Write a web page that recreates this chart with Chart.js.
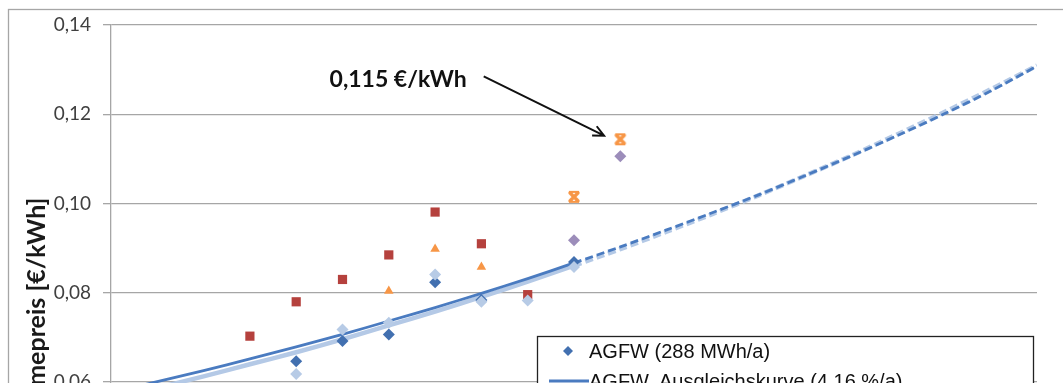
<!DOCTYPE html>
<html>
<head>
<meta charset="utf-8">
<script src="https://cdn.jsdelivr.net/npm/chart.js@4.4.1/dist/chart.umd.min.js"></script>
<style>
  html, body { margin: 0; padding: 0; background: #fff; overflow: hidden; }
  #clip { width: 1063px; height: 383px; overflow: hidden; position: relative; }
  #chart-container { width: 1063px; height: 710px; position: relative; }
</style>
</head>
<body>
<div id="clip">
  <div id="chart-container"><canvas id="price-chart"></canvas></div>
</div>
<script>
// values
const curveYears = [2000, 2001, 2002, 2003, 2004, 2005, 2006, 2007, 2008, 2009, 2010,
                    2011, 2012, 2013, 2014, 2015, 2016, 2017, 2018, 2019, 2020];
const agfwCurve = [0.0577, 0.0601, 0.0626, 0.0652, 0.0679, 0.0707, 0.0737, 0.0767, 0.0799, 0.0832, 0.0867,
                   0.0903, 0.0941, 0.0980, 0.1020, 0.1063, 0.1107, 0.1153, 0.1201, 0.1252, 0.1308];
const lightCurve = [0.0562, 0.0587, 0.0613, 0.0640, 0.0667, 0.0696, 0.0727, 0.0758, 0.0791, 0.0825, 0.0861,
                    0.0898, 0.0937, 0.0977, 0.1019, 0.1063, 0.1108, 0.1156, 0.1205, 0.1256, 0.1309];

const agfwYears = [2004, 2005, 2006, 2007, 2008, 2010];
const agfwPrices = [0.0647, 0.0692, 0.0707, 0.0824, 0.0784, 0.0869];

const lightYears = [2004, 2005, 2006, 2007, 2008, 2009, 2010];
const lightPrices = [0.0618, 0.0718, 0.0733, 0.0841, 0.0780, 0.0783, 0.0858];

const redYears = [2003, 2004, 2005, 2006, 2007, 2008, 2009];
const redPrices = [0.0703, 0.0780, 0.0830, 0.0885, 0.0981, 0.0910, 0.0796];

const triYears = [2006, 2007, 2008];
const triPrices = [0.0804, 0.0898, 0.0858];

const purpleYears = [2010, 2011];
const purplePrices = [0.0918, 0.1106];

const starYears = [2010, 2011];
const starPrices = [0.1015, 0.1144];

const yTicks = [0, 0.02, 0.04, 0.06, 0.08, 0.10, 0.12, 0.14];
const forecastFrom = 2010;

const legendLabels = ["AGFW (288 MWh/a)", "AGFW, Ausgleichskurve (4,16 %/a)"];
const annotationText = "0,115 €/kWh";
const annotationAt = { x: 2004.72, y: 0.1277 };
const arrowFrom = { x: 2008.05, y: 0.1285 };
const arrowTo = { x: 2010.65, y: 0.1152 };

const pts = (xs, ys) => xs.map((x, i) => ({ x: x, y: ys[i] }));

// excel like "star" marker
const starMarker = document.createElement('canvas');
starMarker.width = 14; starMarker.height = 14;
(() => {
    const c = starMarker.getContext('2d');
    c.strokeStyle = '#f79646';
    c.lineCap = 'round';
    c.lineWidth = 3.4;
    c.beginPath();
    c.moveTo(3, 3); c.lineTo(11, 11);
    c.moveTo(11, 3); c.lineTo(3, 11);
    c.stroke();
    c.lineCap = 'butt';
    c.lineWidth = 2;
    c.beginPath();
    c.moveTo(2, 2); c.lineTo(12, 2);
    c.moveTo(2, 12); c.lineTo(12, 12);
    c.stroke();
})();

const dashAfter = (ctx) => ctx.p0.parsed.x >= forecastFrom ? [8, 4] : undefined;

const framePlugin = {
    id: 'frame',
    beforeDraw(chart) {
        const ctx = chart.ctx;
        ctx.save();
        ctx.fillStyle = '#fff';
        ctx.fillRect(0, 0, chart.width, chart.height);
        ctx.strokeStyle = '#a6a6a6';
        ctx.lineWidth = 1.3;
        ctx.strokeRect(8.5, 9.5, chart.width + 20, chart.height + 20);
        ctx.restore();
    }
};

const notePlugin = {
    id: 'note',
    afterDatasetsDraw(chart) {
        const { ctx, scales: { x, y } } = chart;
        ctx.save();
        ctx.fillStyle = '#111';
        ctx.font = 'bold 23px Lato, "Open Sans", sans-serif';
        ctx.textBaseline = 'middle';
        ctx.fillText(annotationText, x.getPixelForValue(annotationAt.x), y.getPixelForValue(annotationAt.y));

        const x0 = x.getPixelForValue(arrowFrom.x), y0 = y.getPixelForValue(arrowFrom.y);
        const x1 = x.getPixelForValue(arrowTo.x), y1 = y.getPixelForValue(arrowTo.y);
        const a = Math.atan2(y1 - y0, x1 - x0);
        ctx.strokeStyle = '#111';
        ctx.lineWidth = 2;
        ctx.beginPath();
        ctx.moveTo(x0, y0);
        ctx.lineTo(x1, y1);
        ctx.moveTo(x1 - 12 * Math.cos(a - 0.45), y1 - 12 * Math.sin(a - 0.45));
        ctx.lineTo(x1, y1);
        ctx.lineTo(x1 - 12 * Math.cos(a + 0.45), y1 - 12 * Math.sin(a + 0.45));
        ctx.stroke();
        ctx.restore();
    }
};

const legendPlugin = {
    id: 'boxLegend',
    afterDraw(chart) {
        const ctx = chart.ctx;
        const left = 537, top = 336, right = 1033;
        ctx.save();
        ctx.fillStyle = '#fff';
        ctx.fillRect(left, top, right - left, 400);
        ctx.strokeStyle = '#222';
        ctx.lineWidth = 1.3;
        ctx.strokeRect(left + 0.5, top + 0.5, right - left, 400);
        ctx.font = '20px "Liberation Sans", Arial, sans-serif';
        ctx.fillStyle = '#111';
        ctx.textBaseline = 'middle';
        // row 1: marker
        ctx.fillStyle = '#4270b0';
        ctx.beginPath();
        ctx.moveTo(568, 346); ctx.lineTo(573, 351); ctx.lineTo(568, 356); ctx.lineTo(563, 351);
        ctx.closePath();
        ctx.fill();
        ctx.fillStyle = '#111';
        ctx.fillText(legendLabels[0], 589, 352);
        // row 2: trend line
        ctx.strokeStyle = '#4a7bc0';
        ctx.lineWidth = 3;
        ctx.beginPath();
        ctx.moveTo(549, 381); ctx.lineTo(589, 381);
        ctx.stroke();
        ctx.fillText(legendLabels[1], 589, 382);
        ctx.restore();
    }
};

const ctx = document.getElementById('price-chart').getContext('2d');

window.chartInstance = new Chart(ctx, {
    type: 'scatter',
    data: {
        datasets: [
            {
                label: legendLabels[0],
                data: pts(agfwYears, agfwPrices),
                pointStyle: 'rectRot', pointRadius: 6, pointHoverRadius: 7,
                backgroundColor: '#4270b0', borderColor: '#4270b0', borderWidth: 0,
                order: 1,
            },
            {
                label: 'Reihe 2',
                data: pts(lightYears, lightPrices),
                pointStyle: 'rectRot', pointRadius: 6, pointHoverRadius: 7,
                backgroundColor: '#b7cbe6', borderColor: '#b7cbe6', borderWidth: 0,
                order: 0,
            },
            {
                label: 'Reihe 3',
                data: pts(redYears, redPrices),
                pointStyle: 'rect', pointRadius: 6.5, pointHoverRadius: 7,
                backgroundColor: '#b5413d', borderColor: '#b5413d', borderWidth: 0,
                order: 0,
            },
            {
                label: 'Reihe 4',
                data: pts(triYears, triPrices),
                pointStyle: 'triangle', pointRadius: 5.5, pointHoverRadius: 6,
                backgroundColor: '#f79646', borderColor: '#f79646', borderWidth: 0,
                order: 0,
            },
            {
                label: 'Reihe 5',
                data: pts(purpleYears, purplePrices),
                pointStyle: 'rectRot', pointRadius: 6, pointHoverRadius: 7,
                backgroundColor: '#9c8dba', borderColor: '#9c8dba', borderWidth: 0,
                order: 0,
            },
            {
                label: 'Reihe 6',
                data: pts(starYears, starPrices),
                pointStyle: starMarker, pointRadius: 6,
                order: 0,
            },
            {
                label: legendLabels[1],
                data: pts(curveYears, agfwCurve),
                showLine: true, pointRadius: 0, pointHoverRadius: 0,
                borderColor: '#4a7bc0', borderWidth: 2.8, tension: 0.3,
                segment: { borderDash: dashAfter },
                order: 2,
            },
            {
                label: 'Ausgleichskurve 2',
                data: pts(curveYears, lightCurve),
                showLine: true, pointRadius: 0, pointHoverRadius: 0,
                borderColor: '#b4c9e6', borderWidth: 4.5, tension: 0.3,
                segment: { borderDash: dashAfter },
                order: 3,
            },
        ]
    },
    options: {
        responsive: true,
        maintainAspectRatio: false,
        animation: false,
        layout: {
            padding: { top: 25, left: 14, right: 26, bottom: 20 },
        },
        plugins: {
            legend: { display: false },
            tooltip: { enabled: true },
        },
        scales: {
            x: {
                type: 'linear',
                min: 2000, max: 2020,
                afterFit: (scale) => { scale.height = 40; },
                ticks: {
                    stepSize: 2,
                    color: '#404040',
                    font: { family: 'Lato', size: 19 },
                    callback: (v) => String(v),
                },
                grid: { display: false },
                border: { color: '#a6a6a6', width: 1.3 },
            },
            y: {
                min: 0, max: 0.14,
                afterFit: (scale) => { scale.width = 97; },
                afterBuildTicks: (scale) => { scale.ticks = yTicks.map(v => ({ value: v })); },
                ticks: {
                    color: '#404040',
                    padding: 12,
                    font: { family: 'Lato', size: 19 },
                    callback: (v) => v.toFixed(2).replace('.', ','),
                },
                grid: {
                    color: '#a6a6a6',
                    lineWidth: 1.3,
                    tickLength: 8,
                },
                border: { color: '#a6a6a6', width: 1.3 },
                title: {
                    display: true,
                    text: 'Fernwärmepreis [€/kWh]',
                    color: '#1a1a1a',
                    font: { family: 'Lato', size: 25, weight: 'bold' },
                    padding: { top: 8, bottom: 0 },
                },
            }
        }
    },
    plugins: [framePlugin, notePlugin, legendPlugin]
});
</script>
</body>
</html>
